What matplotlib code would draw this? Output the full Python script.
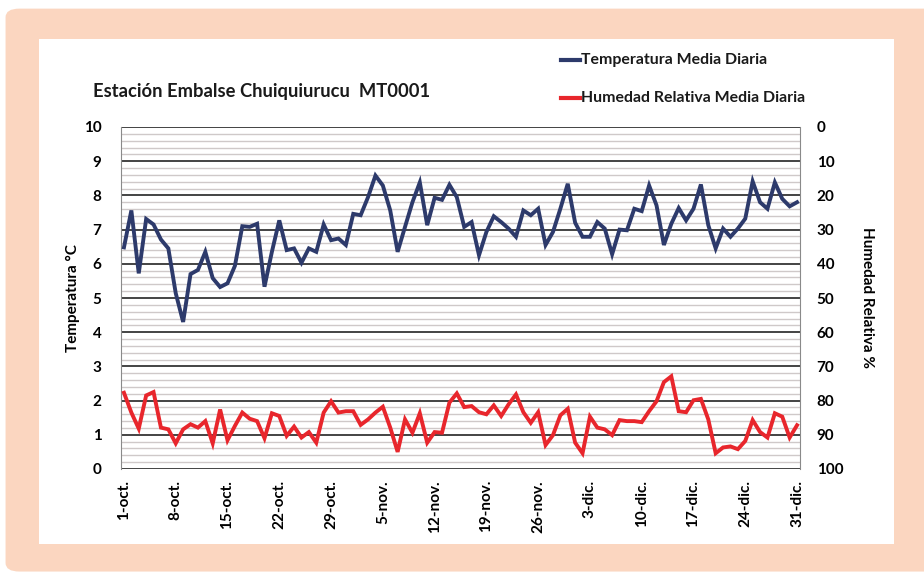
import matplotlib.pyplot as plt
import numpy as np
import pandas as pd
from matplotlib.patches import FancyBboxPatch, Rectangle

plt.rcParams['font.family'] = ['Lato', 'DejaVu Sans']
plt.rcParams['font.weight'] = 'bold'
plt.rcParams['axes.labelweight'] = 'bold'

# Datos diarios 1-oct .. 31-dic
temperatura = [6.48, 7.56, 5.72, 7.31, 7.15, 6.71, 6.45, 5.14, 4.30, 5.70,
               5.82, 6.35, 5.58, 5.32, 5.43, 5.94, 7.10, 7.08, 7.17, 5.33,
               6.35, 7.27, 6.40, 6.45, 6.03, 6.45, 6.35, 7.15, 6.69, 6.74,
               6.55, 7.46, 7.42, 7.95, 8.58, 8.29, 7.56, 6.35, 7.08, 7.80,
               8.38, 7.13, 7.93, 7.87, 8.31, 7.95, 7.08, 7.22, 6.25, 6.93,
               7.39, 7.22, 7.03, 6.79, 7.56, 7.42, 7.61, 6.55, 6.93, 7.61,
               8.34, 7.20, 6.79, 6.79, 7.22, 7.03, 6.28, 7.00, 6.98, 7.61,
               7.54, 8.29, 7.71, 6.55, 7.17, 7.63, 7.27, 7.61, 8.32, 7.13,
               6.45, 7.03, 6.79, 7.03, 7.32, 8.41, 7.80, 7.61, 8.38, 7.90,
               7.68, 7.80]

humedad = [77.7, 83.5, 88.2, 78.5, 77.5, 87.9, 88.4, 92.5, 88.4, 86.9,
           87.9, 86.0, 92.5, 82.6, 91.6, 87.4, 83.5, 85.3, 86.0, 91.0,
           83.7, 84.5, 90.3, 87.6, 90.8, 89.2, 92.3, 83.5, 80.2, 83.5,
           83.1, 83.1, 87.1, 85.5, 83.5, 81.8, 87.9, 95.0, 85.5, 89.4,
           83.7, 92.3, 89.2, 89.4, 80.6, 77.9, 81.9, 81.6, 83.4, 84.0,
           81.4, 84.5, 81.1, 78.2, 83.4, 86.5, 83.4, 93.0, 90.1, 84.3,
           82.4, 92.3, 95.4, 84.7, 87.9, 88.4, 90.1, 85.7, 86.0, 86.0,
           86.3, 83.1, 80.2, 74.6, 72.9, 83.1, 83.4, 79.9, 79.5, 85.5,
           95.4, 93.7, 93.4, 94.2, 91.8, 85.7, 89.2, 90.8, 83.7, 84.7,
           90.8, 87.2]

fechas = pd.date_range('2013-10-01', periods=len(temperatura), freq='D')
meses = {10: 'oct.', 11: 'nov.', 12: 'dic.'}
etiquetas = [f"{d.day}-{meses[d.month]}" for d in fechas]

c_temp = '#2d3a6b'
c_hum = '#e8262c'
peach = '#fbd6c0'

fig = plt.figure(figsize=(9.24, 5.75), dpi=100)
fig.patch.set_facecolor('white')

# marco de fondo
fig.patches.append(FancyBboxPatch((0.006, 0.006), 1.2, 0.979, transform=fig.transFigure,
                                  boxstyle='round,pad=0,rounding_size=0.015',
                                  facecolor=peach, edgecolor='none', zorder=-10))
fig.patches.append(Rectangle((39 / 924, 1 - 544 / 575), (894 - 39) / 924, (544 - 39) / 575,
                             transform=fig.transFigure, facecolor='white',
                             edgecolor='none', zorder=-9))

ax = fig.add_axes([121 / 924, 1 - 469 / 575, (800 - 121) / 924, (469 - 127) / 575])
ax.set_facecolor('none')
x = np.arange(len(temperatura))

ax.set_ylim(0, 10)
ax.set_xlim(-0.4, len(x) - 0.6)
ax.set_yticks(np.arange(0, 11, 1))
ax.set_yticks(np.arange(0, 10.01, 0.2), minor=True)
ax.grid(which='minor', axis='y', color='#cfc9c9', linewidth=1.0, zorder=0)
ax.grid(which='major', axis='y', color='#111111', linewidth=1.1, zorder=0)
ax.tick_params(axis='y', which='both', length=0, labelsize=11, pad=14)
ax.plot(x, temperatura, color=c_temp, linewidth=2.8, zorder=3,
        solid_joinstyle='miter', label='Temperatura Media Diaria')

ticks = x[::7]
ax.set_xticks(ticks)
ax.set_xticklabels([etiquetas[i] for i in ticks], rotation=90, fontsize=11,
                   fontweight='bold')
ax.tick_params(axis='x', length=0, pad=8)
for s in ['top', 'bottom']:
    ax.spines[s].set_visible(False)
for s in ['left', 'right']:
    ax.spines[s].set_color('#8a8a8a')

ax2 = ax.twinx()
ax2.set_ylim(100, 0)
ax2.set_yticks(np.arange(0, 101, 10))
ax2.tick_params(axis='y', length=0, labelsize=11, pad=12)
for s in ax2.spines.values():
    s.set_visible(False)
ax2.plot(x, humedad, color=c_hum, linewidth=2.8, zorder=3,
         solid_joinstyle='miter', label='Humedad Relativa Media Diaria')

for lab in ax.get_yticklabels() + ax2.get_yticklabels():
    lab.set_fontweight('bold')

ax.set_ylabel('Temperatura °C', fontsize=11, labelpad=3)
ax2.set_ylabel('Humedad Relativa %', fontsize=11, rotation=270, labelpad=22)

fig.text(93 / 924, 1 - 92 / 575, 'Estación Embalse Chuiquiurucu  MT0001',
         fontsize=13.2, fontweight='bold', va='center', ha='left', color='#1a1a1a')

# leyenda
for yy, col, txt in [(60, c_temp, 'Temperatura Media Diaria'),
                     (98, c_hum, 'Humedad Relativa Media Diaria')]:
    fig.lines.append(plt.Line2D([561 / 924, 580 / 924], [1 - yy / 575] * 2,
                                transform=fig.transFigure, color=col, linewidth=3))
    fig.text(581 / 924, 1 - yy / 575, txt, fontsize=11.4, fontweight='bold',
             va='center', ha='left', color='#1a1a1a')

fig.savefig('out.png', dpi=100)
